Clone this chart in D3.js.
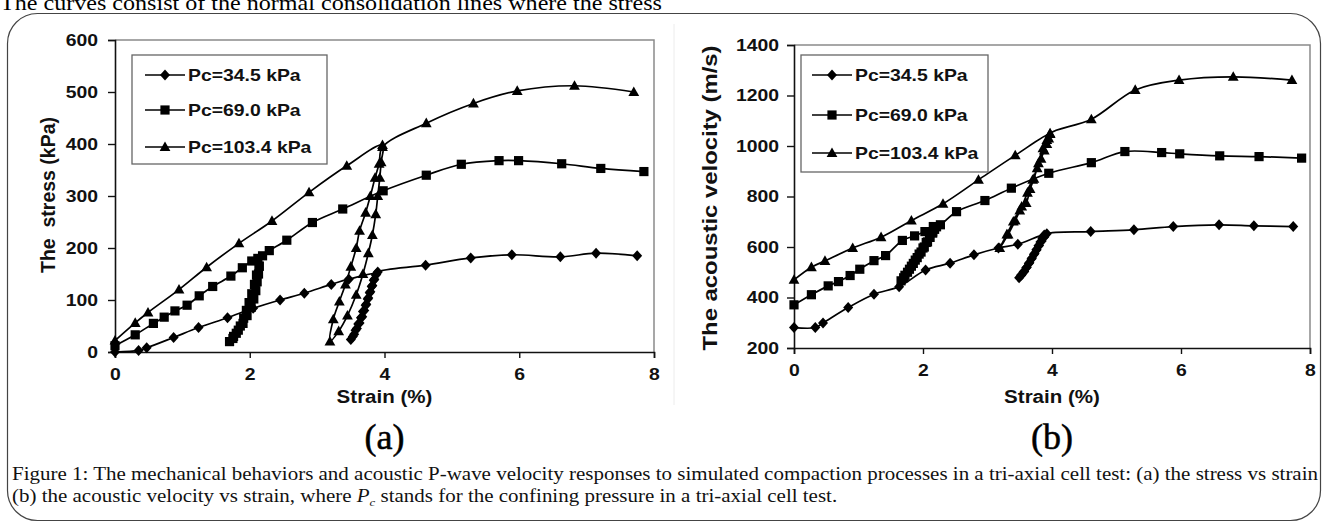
<!DOCTYPE html>
<html>
<head>
<meta charset="utf-8">
<script src="https://cdn.jsdelivr.net/npm/d3@7"></script>
<style>
  html, body { margin: 0; padding: 0; background: #fff; }
  svg { display: block; }
</style>
</head>
<body>
<svg id="fig" width="1326" height="525"></svg>
<script>
// ---------- data ----------
const seriesNames = ["Pc=34.5 kPa", "Pc=69.0 kPa", "Pc=103.4 kPa"];
const strainTicks = [0, 2, 4, 6, 8];
const stressTicks = [0, 100, 200, 300, 400, 500, 600];
const velocityTicks = [200, 400, 600, 800, 1000, 1200, 1400];

// (a) stress vs strain
const strainA1 = [0,0.35,0.47,0.87,1.24,1.67,2.05,2.45,2.81,3.21,3.47,3.88,3.85,3.82,3.79,3.76,3.73,3.70,3.67,3.63,3.59,3.55,3.50,3.53,3.57,3.61,3.65,3.68,3.72,3.75,3.78,3.81,3.84,3.87,3.90,4.61,5.28,5.89,6.61,7.14,7.75];
const stressA1 = [0,3,8,28,47,66,84,100,113,130,140,150,140,128,116,104,92,80,68,56,45,34,24,30,42,54,66,78,90,102,114,126,138,148,154,167,181,187,183,190,185];

const strainA2 = [0,0.30,0.57,0.73,0.89,1.07,1.25,1.45,1.72,1.89,2.03,2.12,2.14,2.13,2.11,2.09,2.06,2.02,1.96,1.90,1.83,1.76,1.70,1.75,1.80,1.86,1.91,1.95,1.99,2.03,2.07,2.10,2.14,2.19,2.29,2.55,2.93,3.38,3.98,4.62,5.14,5.70,5.99,6.63,7.21,7.85];
const stressA2 = [12,33,55,67,79,90,108,126,146,162,175,180,165,150,135,118,102,86,70,55,42,30,20,26,36,50,65,80,95,112,130,148,165,185,195,215,249,275,310,340,361,368,368,362,353,347];

const strainA3 = [0,0.30,0.49,0.95,1.36,1.84,2.33,2.88,3.44,3.97,3.95,3.93,3.90,3.87,3.82,3.76,3.68,3.58,3.45,3.32,3.19,3.24,3.33,3.42,3.50,3.58,3.63,3.72,3.79,3.86,3.92,3.97,4.62,5.32,5.97,6.82,7.70];
const stressA3 = [22,56,76,120,163,209,252,307,358,398,365,335,300,265,225,190,150,110,70,40,20,63,97,130,164,200,233,268,300,335,362,394,440,478,502,512,500];

// (b) acoustic velocity vs strain
const strainB1 = [0,0.33,0.45,0.84,1.24,1.63,2.04,2.42,2.79,3.17,3.47,3.88,3.85,3.82,3.79,3.76,3.73,3.69,3.65,3.61,3.57,3.53,3.49,3.52,3.56,3.60,3.64,3.68,3.72,3.76,3.80,3.84,3.88,3.92,4.60,5.27,5.88,6.59,7.13,7.74];
const velocityB1 = [281,281,299,360,413,443,509,536,569,596,611,648,635,620,605,590,574,556,538,520,503,490,478,488,502,518,535,552,570,588,606,624,640,652,661,668,681,688,684,681];

const strainB2 = [0,0.27,0.53,0.69,0.87,1.02,1.24,1.42,1.68,1.87,2.03,2.16,2.18,2.15,2.11,2.07,2.02,1.97,1.91,1.85,1.79,1.72,1.66,1.70,1.76,1.82,1.88,1.94,2.00,2.05,2.10,2.15,2.21,2.27,2.52,2.96,3.37,3.95,4.61,5.13,5.70,5.98,6.60,7.21,7.87];
const velocityB2 = [371,411,446,463,487,512,546,566,626,644,661,681,670,655,638,620,600,580,558,535,512,488,466,478,500,524,548,572,596,618,640,660,680,688,740,784,833,892,934,978,974,969,961,958,952];

const strainB3 = [0,0.27,0.48,0.91,1.35,1.82,2.31,2.86,3.43,3.97,3.95,3.92,3.88,3.83,3.77,3.70,3.62,3.53,3.43,3.32,3.19,3.30,3.40,3.50,3.60,3.66,3.72,3.79,3.86,3.92,3.97,4.61,5.29,5.97,6.81,7.72];
const velocityB3 = [470,520,545,596,639,705,771,866,963,1048,1030,1008,982,950,912,866,815,760,705,650,596,650,701,745,774,830,870,932,991,1024,1050,1106,1222,1261,1274,1261];

// ---------- drawing ----------
const svg = d3.select("#fig");
const SANS = "'Liberation Sans', Arial, sans-serif";
const SERIF = "'Liberation Serif', 'Times New Roman', serif";
const WIDE = 1.14; // horizontal widening of the chart lettering

function widen(sel, k) {
  sel.each(function () {
    const w = this.getComputedTextLength();
    d3.select(this).attr("textLength", w * k).attr("lengthAdjust", "spacingAndGlyphs");
  });
}

function markerPath(kind) {
  if (kind === 0) return "M0,-5.5L5,0L0,5.5L-5,0Z";
  if (kind === 1) return "M-4.6,-4.6H4.6V4.6H-4.6Z";
  return "M0,-5.6L5.4,4H-5.4Z";
}

// outer frame and running text above it
svg.append("text").attr("x", 0).attr("y", 10)
  .attr("font-family", SERIF).attr("font-size", 22)
  .text("The curves consist of the normal consolidation lines where the stress")
  .attr("textLength", 662).attr("lengthAdjust", "spacingAndGlyphs");

svg.append("rect").attr("x", 7.5).attr("y", 13.5).attr("width", 1313).attr("height", 507)
  .attr("rx", 30).attr("ry", 30).attr("fill", "none").attr("stroke", "#444").attr("stroke-width", 1.2);

svg.append("line").attr("x1", 674).attr("x2", 674).attr("y1", 24).attr("y2", 405)
  .attr("stroke", "#ececec").attr("stroke-width", 1);

function panel(cfg) {
  const g = svg.append("g");
  const x = d3.scaleLinear().domain([0, 8]).range([cfg.x0, cfg.x1]);
  const y = d3.scaleLinear().domain(cfg.yDomain).range([cfg.y0, cfg.y1]);

  // top and right edges of the plot box
  g.append("path")
    .attr("d", `M${cfg.x0},${cfg.y1}H${cfg.x1}V${cfg.y0}`)
    .attr("fill", "none").attr("stroke", "#8a8a8a").attr("stroke-width", 1.5);

  const xAxis = g.append("g").attr("transform", `translate(0,${cfg.y0})`)
    .call(d3.axisBottom(x).tickValues(strainTicks).tickSize(6).tickPadding(6).tickFormat(d3.format("d")));
  const yAxis = g.append("g").attr("transform", `translate(${cfg.x0},0)`)
    .call(d3.axisLeft(y).tickValues(cfg.yTicks).tickSize(7).tickPadding(cfg.yPad).tickFormat(d3.format("d")));
  [xAxis, yAxis].forEach(a => {
    a.select(".domain").attr("stroke", "#111").attr("stroke-width", 1.6);
    a.selectAll(".tick line").attr("stroke", "#111").attr("stroke-width", 1.4);
    a.selectAll(".tick text").attr("font-family", SANS).attr("font-weight", "bold")
      .attr("font-size", 17).attr("fill", "#111");
  });
  xAxis.selectAll(".tick text").attr("dy", "0.95em").call(widen, WIDE);
  yAxis.selectAll(".tick text").call(widen, WIDE);

  // curves
  const line = d3.line().x(d => x(d[0])).y(d => y(d[1])).curve(d3.curveCatmullRom.alpha(0.5));
  cfg.series.forEach((s, i) => {
    const pts = s.strain.map((v, j) => [v, s.value[j]]);
    g.append("path").datum(pts).attr("d", line)
      .attr("fill", "none").attr("stroke", "#000").attr("stroke-width", 1.7);
    g.append("g").selectAll("path").data(pts).join("path")
      .attr("transform", d => `translate(${x(d[0])},${y(d[1])})`)
      .attr("d", markerPath(i)).attr("fill", "#000");
  });

  // legend
  const lg = g.append("g");
  lg.append("rect").attr("x", cfg.legend.x).attr("y", cfg.legend.y)
    .attr("width", cfg.legend.w).attr("height", cfg.legend.h)
    .attr("fill", "#fff").attr("stroke", "#666").attr("stroke-width", 1.3);
  seriesNames.forEach((name, i) => {
    const ly = cfg.legend.rows[i];
    const lx = cfg.legend.x + cfg.legend.lineStart;
    lg.append("line").attr("x1", lx).attr("x2", lx + 40).attr("y1", ly).attr("y2", ly)
      .attr("stroke", "#000").attr("stroke-width", 1.7);
    lg.append("path").attr("transform", `translate(${lx + 20},${ly})`).attr("d", markerPath(i)).attr("fill", "#000");
    lg.append("text").attr("x", lx + 43).attr("y", ly + 6)
      .attr("font-family", SANS).attr("font-weight", "bold").attr("font-size", 17).attr("fill", "#111")
      .text(name).call(widen, WIDE);
  });

  // axis titles
  g.append("text").attr("x", (cfg.x0 + cfg.x1) / 2).attr("y", 403).attr("text-anchor", "middle")
    .attr("font-family", SANS).attr("font-weight", "bold").attr("font-size", 18).attr("fill", "#111")
    .text("Strain (%)").call(widen, WIDE);
  g.append("text")
    .attr("transform", `translate(${cfg.titleX},${cfg.titleY}) rotate(-90)`)
    .attr("text-anchor", "middle").style("white-space", "pre")
    .attr("font-family", SANS).attr("font-weight", "bold").attr("font-size", 20).attr("fill", "#111")
    .text(cfg.title).attr("textLength", cfg.titleLen).attr("lengthAdjust", "spacingAndGlyphs");

  // panel letter
  svg.append("text").attr("x", (cfg.x0 + cfg.x1) / 2).attr("y", 449).attr("text-anchor", "middle")
    .attr("font-family", SERIF).attr("font-size", 36).attr("stroke", "#000").attr("stroke-width", 0.5)
    .text(cfg.letter);
}

panel({
  x0: 115, x1: 654, y0: 352, y1: 40, yDomain: [0, 600], yTicks: stressTicks, yPad: 10,
  series: [
    { strain: strainA1, value: stressA1 },
    { strain: strainA2, value: stressA2 },
    { strain: strainA3, value: stressA3 }
  ],
  legend: { x: 132, y: 55, w: 195, h: 109, rows: [75, 110, 147], lineStart: 13 },
  title: "The  stress (kPa)", titleX: 55, titleY: 195, titleLen: 156,
  letter: "(a)"
});

panel({
  x0: 794, x1: 1310, y0: 348, y1: 45, yDomain: [200, 1400], yTicks: velocityTicks, yPad: 8,
  series: [
    { strain: strainB1, value: velocityB1 },
    { strain: strainB2, value: velocityB2 },
    { strain: strainB3, value: velocityB3 }
  ],
  legend: { x: 801, y: 55, w: 187, h: 117, rows: [75, 115, 153], lineStart: 11 },
  title: "The acoustic velocity (m/s)", titleX: 717, titleY: 198, titleLen: 305,
  letter: "(b)"
});

// caption
const cap = svg.append("g").attr("font-family", SERIF).attr("font-size", 18).attr("fill", "#111");
const c1 = cap.append("text").attr("x", 12).attr("y", 480)
  .text("Figure 1: The mechanical behaviors and acoustic P-wave velocity responses to simulated compaction processes in a tri-axial cell test: (a) the stress vs strain");
const natural = c1.node().getComputedTextLength();
const capK = 1306 / natural;
c1.attr("textLength", 1306).attr("lengthAdjust", "spacingAndGlyphs");
const c2 = cap.append("text").attr("x", 12).attr("y", 502);
c2.append("tspan").text("(b) the acoustic velocity vs strain, where ");
c2.append("tspan").attr("font-style", "italic").text("P");
c2.append("tspan").attr("font-style", "italic").attr("font-size", 11).attr("dy", 4).text("c");
c2.append("tspan").attr("dy", -4).text(" stands for the confining pressure in a tri-axial cell test.");
c2.call(widen, capK);
</script>
</body>
</html>
